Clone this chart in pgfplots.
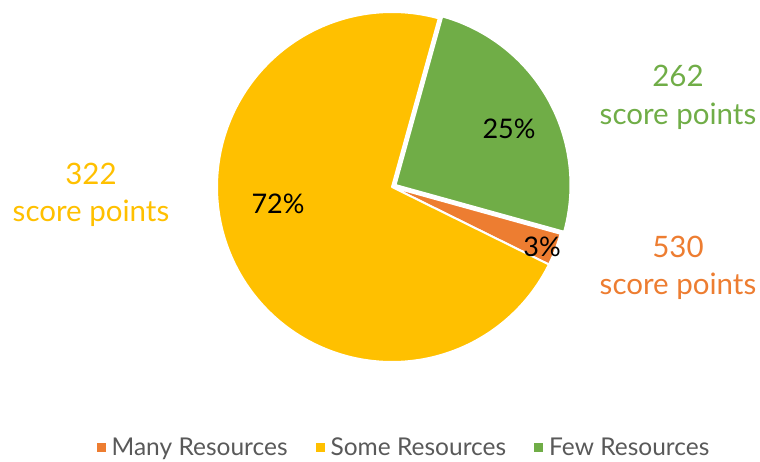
\documentclass[border=0pt]{standalone}
\usepackage{pgfplots}
\pgfplotsset{compat=1.18}
\usepackage{pgfplotstable}
\usepackage{fontspec}
\setmainfont{Lato}
\definecolor{cOrange}{HTML}{ED7D31}
\definecolor{cYellow}{HTML}{FFC000}
\definecolor{cGreen}{HTML}{70AD47}
\definecolor{cLegend}{HTML}{595959}
% share of each group (percent), clockwise from the first slice
\pgfplotstableread{
group  pct
Many   3
Some   72
Few    25
}\piedata
\begin{document}
\begin{tikzpicture}
\path[use as bounding box] (0,0) rectangle (760pt,461pt);
\pgfplotstablegetelem{0}{pct}\of\piedata \let\pA\pgfplotsretval
\pgfplotstablegetelem{1}{pct}\of\piedata \let\pB\pgfplotsretval
\pgfplotstablegetelem{2}{pct}\of\piedata \let\pC\pgfplotsretval
\pgfmathsetmacro{\aZero}{105.5}
\pgfmathsetmacro{\aOne}{\aZero+3.6*\pA}
\pgfmathsetmacro{\aTwo}{\aOne+3.6*\pB}
\pgfmathsetmacro{\aThree}{\aTwo+3.6*\pC}
\pgfmathsetmacro{\midC}{(\aTwo+\aThree)/2}
\pgfmathsetmacro{\gx}{392+4*sin(\midC)}
\pgfmathsetmacro{\gy}{274+4*cos(\midC)}
\begin{axis}[
  width=760pt, height=461pt, scale only axis,
  xmin=0, xmax=760, ymin=0, ymax=461,
  hide axis, clip=false,
  legend columns=3,
  legend style={at={(axis cs:406,14)}, anchor=center, draw=none, fill=none,
    font=\fontsize{24.5}{28}\selectfont, text=cLegend,
    /tikz/every even column/.append style={column sep=22pt},
    inner xsep=0pt, inner ysep=0pt,
    nodes={inner xsep=6pt, inner ysep=0pt}},
  legend image code/.code={\fill[#1, draw=none] (0pt,-4.5pt) rectangle (9pt,4.5pt);},
  every axis plot/.append style={draw=white, line width=2pt, line join=round},
]
\addplot[fill=cOrange, domain=\aZero:\aOne, samples=20]
  ({392+175*sin(x)}, {274+175*cos(x)}) -- (392,274) -- cycle;
\addlegendentry{Many Resources}
\addplot[fill=cYellow, domain=\aOne:\aTwo, samples=180]
  ({392+175*sin(x)}, {274+175*cos(x)}) -- (392,274) -- cycle;
\addlegendentry{Some Resources}
\addplot[fill=cGreen, domain=\aTwo:\aThree, samples=80]
  ({\gx+175*sin(x)}, {\gy+175*cos(x)}) -- (\gx,\gy) -- cycle;
\addlegendentry{Few Resources}

\node[anchor=base, font=\fontsize{27}{30}\selectfont] at (axis cs:278,247) {72\%};
\node[anchor=base, font=\fontsize{27}{30}\selectfont] at (axis cs:509,322) {25\%};
\node[anchor=base, font=\fontsize{27}{30}\selectfont] at (axis cs:542,204) {3\%};

\node[anchor=base, text=cYellow, font=\fontsize{29.5}{32}\selectfont] at (axis cs:91,276) {322};
\node[anchor=base, text=cYellow, font=\fontsize{29.5}{32}\selectfont] at (axis cs:91,239) {score points};
\node[anchor=base, text=cGreen, font=\fontsize{29.5}{32}\selectfont] at (axis cs:678,374) {262};
\node[anchor=base, text=cGreen, font=\fontsize{29.5}{32}\selectfont] at (axis cs:678,336) {score points};
\node[anchor=base, text=cOrange, font=\fontsize{29.5}{32}\selectfont] at (axis cs:678,203) {530};
\node[anchor=base, text=cOrange, font=\fontsize{29.5}{32}\selectfont] at (axis cs:678,166) {score points};
\end{axis}
\end{tikzpicture}
\end{document}
